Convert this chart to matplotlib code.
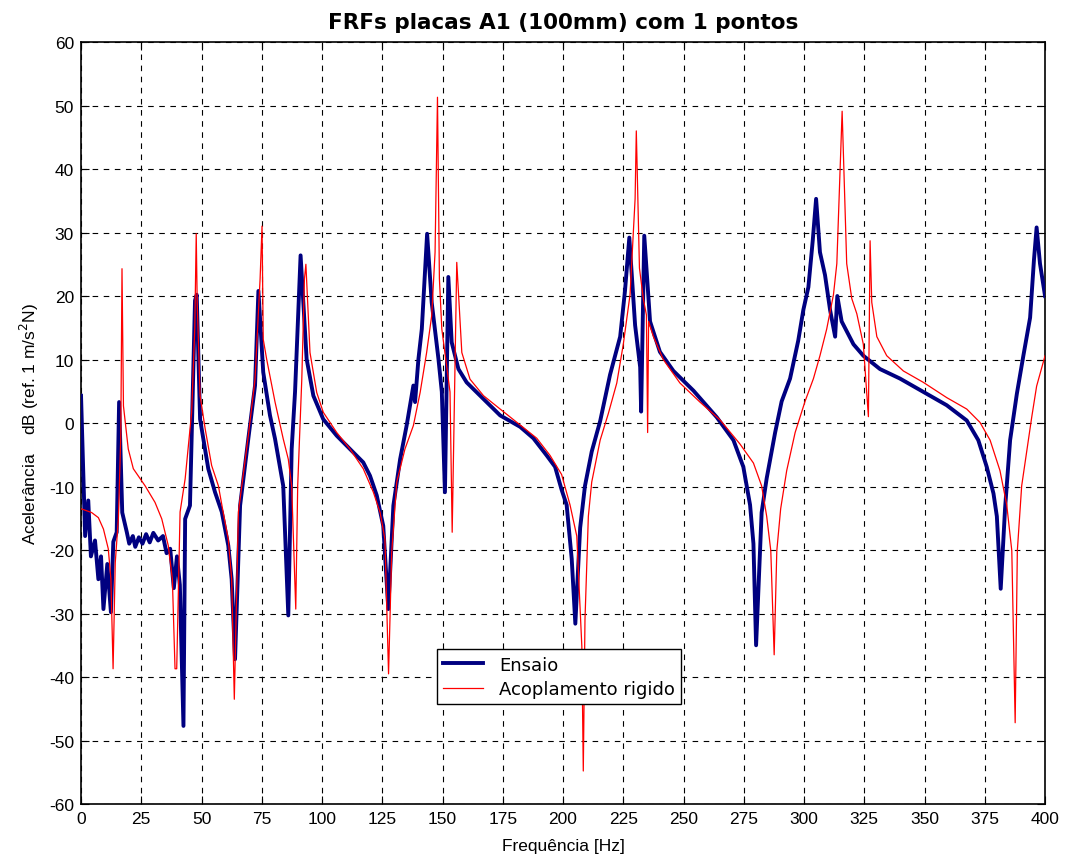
import matplotlib
matplotlib.use("Agg")
import matplotlib.pyplot as plt

plt.rcParams['font.family'] = ['Liberation Sans', 'DejaVu Sans']
plt.rcParams['axes.unicode_minus'] = False

# Ensaio (medido)
ensaio_freq = [0, 1.7, 3, 4.1, 5.8, 7.2, 8.3, 9.3, 10.9, 12.4, 13.4, 14.8, 15.8, 17.1, 19,
               20, 21.5, 22.5, 24, 25.5, 27, 28.5, 30, 32, 34, 35.5, 37, 38.5, 39.8, 41,
               42.5, 43.2, 45.2, 47.3, 48, 49.4, 52.8, 55.6, 58.4, 61.1, 62.5, 63.9, 66,
               69.4, 72.2, 73.6, 75.6, 78.4, 80.5, 83.9, 86, 87.4, 88.8, 91.1, 93.6, 96.4,
               100.5, 106.1, 111.6, 117.1, 119.9, 122.7, 125.4, 127.5, 129.6, 132.4, 135.1,
               136.5, 137.9, 138.6, 140, 141.4, 143.6, 145.5, 148.3, 149.7, 151, 152.4,
               153.8, 156.6, 160, 165.6, 173.9, 182.2, 187.7, 193.2, 196.7, 199.4, 201.5,
               203.6, 205.1, 207.1, 209.1, 211.9, 215.4, 219.5, 223.7, 225.7, 227.5, 229.9,
               232, 232.4, 233.7, 236.1, 240.2, 245.8, 254.1, 263.8, 270.7, 274.8, 277.6,
               279, 280.1, 282.4, 284.5, 288, 290.7, 294.2, 297.6, 299.7, 301.8, 303.6, 305,
               306.6, 308.7, 310.8, 312.9, 313.8, 315.6, 320.5, 324.6, 331.5, 339.8, 349.5,
               359.2, 367.5, 372.3, 375.8, 378.6, 380, 381.6, 383.4, 385.5, 388.3, 391,
               393.8, 395.4, 396.5, 397.9, 400]
ensaio_db = [4.3, -17.8, -12.2, -21, -18.5, -24.6, -21, -29.3, -22.2, -29.8, -18.7, -17.2, 3.3,
             -14.1, -17.2, -19, -17.8, -19.5, -18, -19, -17.5, -18.8, -17.3, -18.5, -17.8,
             -20.5, -19.8, -26, -21, -25.5, -47.7, -15.1, -13, 19.3, 20.2, 0.6, -7.2, -10.9,
             -14, -19.3, -24.6, -37.2, -13, -2.5, 5.9, 20.8, 8, 1.2, -2.5, -9.9, -30.3, -4.1,
             4.9, 26.4, 10.1, 4.3, 0.6, -2, -4.1, -6.2, -8.3, -11.4, -16.2, -29.3, -13, -5.7,
             -0.4, 2.7, 5.9, 3.3, 10.1, 14.8, 29.8, 19, 10.1, 4.9, -10.9, 23, 12.7, 8.5, 6.4,
             4.3, 1.2, -0.6, -2.4, -5.1, -6.9, -10.5, -12.9, -21.4, -31.6, -16.5, -9.9, -4.5,
             0.3, 7.6, 13.6, 20.8, 29.2, 15.4, 8.8, 1.8, 29.5, 16, 11.2, 8.2, 5.1, 0.9, -2.7,
             -6.9, -12.9, -19, -35, -14.1, -8.7, -1.5, 3.4, 7, 13, 17.8, 21.4, 28.7, 35.3,
             26.9, 23.3, 17.8, 13.6, 20, 16, 12.4, 10.6, 8.5, 7, 4.9, 2.8, 0.4, -2.7, -6.9,
             -11.1, -14.7, -26.1, -13.5, -2.7, 4.6, 10.6, 16.6, 25.7, 30.8, 25.1, 20]

# Acoplamento rigido (modelo)
acopl_freq = [0, 4.4, 7.2, 9.3, 11.3, 12.4, 13.3, 14.2, 15.5, 16.5, 17.0, 17.6, 19.6, 21.7,
              26.6, 30.7, 33.5, 36.2, 37.9, 39.0, 39.7, 41.1, 43.2, 45.9, 47.2, 47.8, 48.2,
              49.4, 51.5, 54.2, 57, 59, 61.1, 62.5, 63.6, 65.3, 69.4, 72.2, 74.3, 75.1, 75.6,
              77, 80.5, 83.9, 86, 87.4, 89.1, 89.9, 91.6, 92.7, 93.3, 95, 97.8, 100.5, 106.1,
              111.6, 117.1, 121.3, 124.1, 126.1, 127.6, 128.9, 131, 134.4, 137.9, 140.7,
              143.4, 145.5, 146.9, 147.9, 148.7, 149.7, 153.1, 154, 155.9, 158, 161.4, 167,
              173.9, 182.2, 189.1, 194.6, 199.4, 202.9, 205.7, 207.8, 208.4, 209.1, 210.5,
              211.9, 215.4, 218.8, 222.3, 225, 227.8, 229.9, 230.4, 231.7, 233.3, 234.6,
              235.1, 235.5, 237.5, 241.6, 248.5, 256.8, 265.1, 273.4, 279, 282.4, 284.5,
              286.2, 287.6, 288.7, 290.3, 292.8, 296.3, 300.4, 303.9, 306.6, 309.4, 312.2,
              313.6, 315.8, 317.7, 319.8, 321.9, 324.6, 326.7, 327.4, 328.1, 330.2, 334.3,
              341.2, 349.5, 359.2, 367.5, 373, 377.2, 381.3, 384.1, 386.2, 387.6, 388.5,
              390.3, 392.4, 394.5, 396.5, 400]
acopl_db = [-13.5, -14.1, -14.9, -16.7, -19.8, -24.6, -38.7, -22, -15, -2, 24.3, 2.7, -4.1,
            -7.2, -9.9, -12.5, -15.1, -19.3, -24.6, -38.7, -38.7, -14, -8.8, 1.7, 15, 29.8,
            19, 4.3, -0.9, -6.7, -9.9, -14.1, -18.3, -24.6, -43.5, -14, -2, 6.9, 22.7, 31,
            13.2, 10.1, 3.3, -2.5, -5.7, -9.9, -29.3, -9.9, 6.9, 22.7, 25, 11.1, 4.8, 1.7,
            -1.5, -4.1, -7.2, -10.9, -14.1, -18.3, -39.5, -20.4, -9.3, -4.1, -0.4, 4.8, 11.1,
            16.9, 26.9, 51.3, 22.7, 14.8, 4.9, -17.2, 25.3, 11.1, 6.9, 4.3, 2.2, -0.3, -2.4,
            -5.1, -8.1, -12.9, -17.8, -35.2, -54.8, -31, -14.7, -9.3, -2.7, 1.5, 6.3, 12.4,
            20.2, 35.3, 46, 24.4, 19.6, 17, -1.5, 16, 13.6, 10, 6.3, 3.3, 0.5, -3.3, -6.3,
            -9.9, -14.7, -20.1, -36.5, -20.1, -13.5, -7.5, -1.5, 3.4, 7, 10.6, 14.8, 20.2,
            25.1, 49.1, 25.1, 19.6, 17.2, 12.4, 1, 28.7, 19, 13.6, 10.6, 8.2, 6.4, 4, 2.2,
            0.1, -2.7, -7.5, -12.9, -20.1, -47.2, -20.1, -9.9, -4.5, 1, 5.8, 10.6]

x_ticks = list(range(0, 401, 25))
y_ticks = list(range(-60, 61, 10))

fig = plt.figure(figsize=(10.69, 8.62), dpi=100)
ax = fig.add_axes([0.0758, 0.0661, 0.9018, 0.8840])

ax.plot(ensaio_freq, ensaio_db, color='#000080', lw=2.8, label='Ensaio', zorder=3)
ax.plot(acopl_freq, acopl_db, color='red', lw=0.9, label='Acoplamento rigido', zorder=4)

ax.set_xlim(0, 400)
ax.set_ylim(-60, 60)
ax.set_xticks(x_ticks)
ax.set_yticks(y_ticks)
ax.tick_params(direction='in', top=True, right=True, labelsize=12.5, length=6, width=0.8, pad=5)
ax.grid(True, color='black', linestyle=(0, (5, 5)), lw=0.8)
for s in ax.spines.values():
    s.set_linewidth(1.2)

ax.set_title('FRFs placas A1 (100mm) com 1 pontos', fontsize=15.5, fontweight='bold',
             family='DejaVu Sans', pad=10)
ax.set_xlabel('Frequência [Hz]', fontsize=12.5, labelpad=9)
ax.set_ylabel('Acelerância    dB (ref. 1 m/s$^2$N)', fontsize=12.5, labelpad=6)

leg = ax.legend(loc='upper left', bbox_to_anchor=(0.369, 0.203),
                prop={'family': 'DejaVu Sans', 'size': 13},
                fancybox=False, edgecolor='black', framealpha=1, borderpad=0.35,
                handlelength=2.2, handletextpad=0.9, labelspacing=0.35, borderaxespad=0)
leg.get_frame().set_linewidth(1.0)

fig.savefig('out.png', dpi=100)
